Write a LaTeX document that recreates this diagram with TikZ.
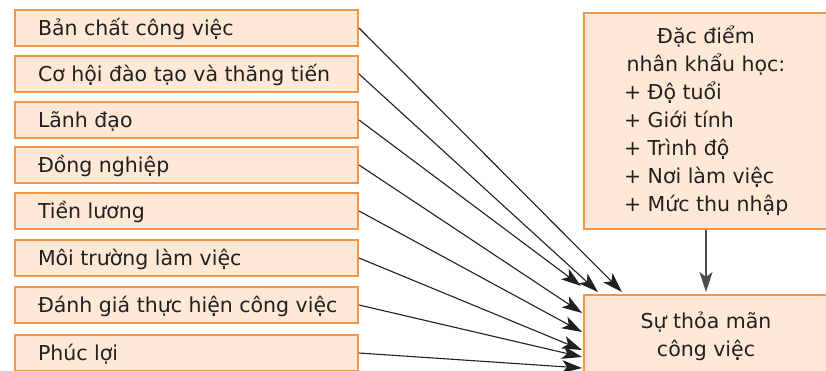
\documentclass[tikz,border=0pt]{standalone}
\usepackage{fontspec}
\setmainfont{DejaVu Sans}
\usetikzlibrary{arrows.meta,calc}
\definecolor{boxfill}{RGB}{253,233,214}
\definecolor{boxline}{RGB}{247,150,70}
\definecolor{ink}{RGB}{35,31,32}

\begin{document}
\begin{tikzpicture}[x=1pt,y=-1pt,
  font=\fontsize{20.5}{28}\selectfont, text=ink,
  factor/.style={draw=boxline, fill=boxfill, line width=2pt, anchor=north west,
    minimum width=343pt, inner xsep=0pt, inner ysep=0pt, minimum height=36pt,
    text height=19pt, text depth=4pt},
  panel/.style={draw=boxline, fill=boxfill, line width=2pt, anchor=north west,
    minimum width=244pt, align=center, inner sep=0pt},
  link/.style={draw=ink, line width=1.1pt,
    -{Stealth[length=20pt,width=13pt,inset=5pt]}}]
\clip (0,0) rectangle (826,370);

% factors on the left (text set flush left inside a fixed-width box)
\newcommand\factortext[1]{\makebox[297pt][l]{#1}}
\node[factor] (f1) at (14,9)   {\factortext{Bản chất công việc}};
\node[factor] (f2) at (14,55)  {\factortext{Cơ hội đào tạo và thăng tiến}};
\node[factor] (f3) at (14,101) {\factortext{Lãnh đạo}};
\node[factor] (f4) at (14,146) {\factortext{Đồng nghiệp}};
\node[factor] (f5) at (14,192) {\factortext{Tiền lương}};
\node[factor] (f6) at (14,239) {\factortext{Môi trường làm việc}};
\node[factor] (f7) at (14,286) {\factortext{Đánh giá thực hiện công việc}};
\node[factor] (f8) at (14,334) {\factortext{Phúc lợi}};

% demographic panel and outcome
\node[panel, minimum height=216pt] (demo) at (583,12)
  {Đặc điểm\\nhân khẩu học:\\
   \makebox[164pt][l]{+ Độ tuổi}\\
   \makebox[164pt][l]{+ Giới tính}\\
   \makebox[164pt][l]{+ Trình độ}\\
   \makebox[164pt][l]{+ Nơi làm việc}\\
   \makebox[164pt][l]{+ Mức thu nhập}};
\node[panel, minimum height=82pt] (sat) at (583,294)
  {Sự thỏa mãn\\công việc};

% connectors
\draw[link] (f1.east) -- ($(sat.north west)+(39,-2)$);
\draw[link] (f2.east) -- ($(sat.north west)+(15,-2)$);
\draw[link] (f3.east) -- ($(sat.north west)+(-2,-8)$);
\draw[link] (f4.east) -- ($(sat.north west)+(-1,19)$);
\draw[link] (f5.east) -- ($(sat.north west)+(-1,38)$);
\draw[link] (f6.east) -- ($(sat.north west)+(-1,56)$);
\draw[link] (f7.east) -- ($(sat.north west)+(-1,63)$);
\draw[link] (f8.east) -- ($(sat.north west)+(-1,74)$);
\draw[link, draw=ink!80, line width=1.5pt] (demo.south) -- ($(sat.north)+(0,-2)$);
\end{tikzpicture}
\end{document}
